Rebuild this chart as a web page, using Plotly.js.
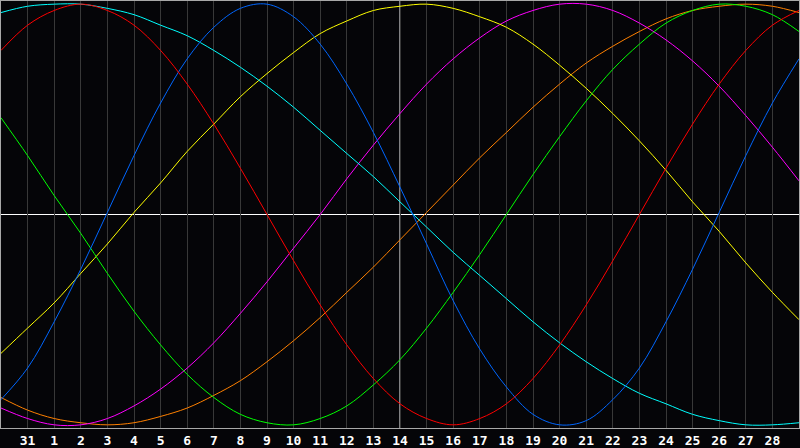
<!DOCTYPE html>
<html>
<head>
<meta charset="utf-8">
<script src="https://cdn.plot.ly/plotly-3.0.1.min.js"></script>
<style>
  html, body { margin: 0; padding: 0; background: #050508; }
  #chart { width: 800px; height: 448px; }
</style>
</head>
<body>
<div id="chart"></div>
<script>
// day positions across the window (0 = left edge, 30 = right edge)
var days = [0,1,2,3,4,5,6,7,8,9,10,11,12,13,14,15,16,17,18,19,20,21,22,23,24,25,26,27,28,29,30];

// day-of-month labels under the grid lines
var tickDays = [1,2,3,4,5,6,7,8,9,10,11,12,13,14,15,16,17,18,19,20,21,22,23,24,25,26,27,28,29];
var tickLabels = ["31","1","2","3","4","5","6","7","8","9","10","11","12","13","14",
                  "15","16","17","18","19","20","21","22","23","24","25","26","27","28"];
var today = 15; // the "14"

// cycle values in percent
var physical = [-88,-73,-51,-26,1,28,53,74,89,98,100,94,81,62,39,13,-14,-41,-64,-82,-95,-100,-98,-88,-73,-51,-26,1,28,53,74];
var emotional = [78,90,97,100,97,90,78,62,43,22,0,-22,-43,-62,-78,-90,-97,-100,-97,-90,-78,-62,-43,-22,0,22,43,62,78,90,97];
var intellectual = [46,28,9,-9,-28,-46,-62,-76,-87,-95,-99,-100,-97,-91,-81,-69,-54,-37,-19,0,19,37,54,69,81,91,97,100,99,95,87];
var intuitive = [-92,-97,-100,-100,-97,-91,-83,-73,-61,-47,-32,-16,0,17,33,48,62,74,84,92,97,100,100,97,91,83,73,61,47,32,16];
var aesthetic = [-66,-54,-42,-28,-14,1,15,30,43,56,67,77,86,92,97,99,100,98,94,89,81,71,60,48,35,21,6,-8,-23,-37,-50];
var awareness = [-87,-93,-97,-99,-100,-99,-96,-92,-86,-79,-70,-60,-49,-37,-25,-12,1,14,27,39,51,62,72,80,87,93,97,99,100,99,96];
var spiritual = [96,99,100,100,98,95,90,85,78,70,61,51,40,29,18,6,-6,-18,-29,-40,-51,-61,-70,-78,-85,-90,-95,-98,-100,-100,-99];

function cycle(values, color, name) {
    return {
        x: days,
        y: values,
        type: 'scatter',
        mode: 'lines',
        name: name,
        line: { color: color, width: 1, shape: 'spline', smoothing: 1 },
        hoverinfo: 'skip'
    };
}

var data = [
    cycle(awareness, '#ff8000', 'Awareness'),
    cycle(intuitive, '#ff00ff', 'Intuitive'),
    cycle(aesthetic, '#ffff00', 'Aesthetic'),
    cycle(intellectual, '#00ff00', 'Intellectual'),
    cycle(spiritual, '#00ffff', 'Spiritual'),
    cycle(physical, '#0066ff', 'Physical'),
    cycle(emotional, '#ff0000', 'Emotional')
];

var layout = {
    width: 800,
    height: 448,
    margin: { l: 1, r: 1, t: 1, b: 20 },
    paper_bgcolor: '#050508',
    plot_bgcolor: '#050508',
    showlegend: false,
    xaxis: {
        range: [0, 30],
        tickmode: 'array',
        tickvals: tickDays,
        ticktext: tickLabels,
        showgrid: true,
        gridcolor: '#383838',
        gridwidth: 1,
        zeroline: false,
        showline: true,
        mirror: true,
        linecolor: '#a8a8a8',
        linewidth: 1,
        ticks: '',
        tickfont: { family: 'DejaVu Sans Mono', size: 13, color: '#ffffff', weight: 'bold' },
        fixedrange: true
    },
    yaxis: {
        range: [-101.5, 101.5],
        showgrid: false,
        zeroline: false,
        showticklabels: false,
        showline: true,
        mirror: true,
        linecolor: '#a8a8a8',
        linewidth: 1,
        ticks: '',
        fixedrange: true
    },
    shapes: [
        { type: 'line', xref: 'x', yref: 'paper', x0: today, x1: today, y0: 0, y1: 1,
          line: { color: '#ffffff', width: 1 }, layer: 'below' },
        { type: 'line', xref: 'paper', yref: 'y', x0: 0, x1: 1, y0: 0, y1: 0,
          line: { color: '#ffffff', width: 1 }, layer: 'below' }
    ]
};

Plotly.newPlot(document.getElementById("chart"), data, layout, { staticPlot: true, displayModeBar: false });
</script>
</body>
</html>
